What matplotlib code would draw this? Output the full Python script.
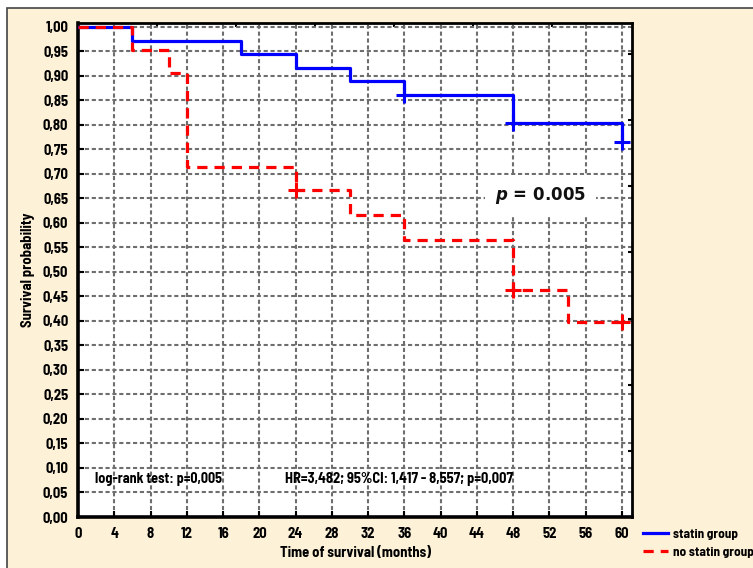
import matplotlib
matplotlib.use("Agg")

import matplotlib.pyplot as plt
import numpy as np
from matplotlib.patches import Rectangle
from matplotlib.ticker import FixedLocator, FuncFormatter

# Kaplan-Meier steps
statin_time = [0, 6, 18, 24, 30, 36, 48, 60]
statin_surv = [1.0, 0.972, 0.944, 0.917, 0.889, 0.861, 0.803, 0.765]
statin_cens_time = [36, 48, 60]
statin_cens_surv = [0.861, 0.803, 0.765]

nostatin_time = [0, 6, 10, 12, 24, 30, 36, 48, 54, 60]
nostatin_surv = [1.0, 0.952, 0.905, 0.714, 0.667, 0.617, 0.566, 0.463, 0.397, 0.397]
nostatin_cens_time = [24, 48, 60]
nostatin_cens_surv = [0.667, 0.463, 0.397]

x_ticks = list(range(0, 61, 4))
y_ticks = [round(v * 0.05, 2) for v in range(21)]

NARROW = ["Barlow Semi Condensed", "DejaVu Sans"]
BEIGE = "#fdf1d8"
BLUE = "#0000ff"
RED = "#ff0000"

fig = plt.figure(figsize=(7.53, 5.68), dpi=100, facecolor="white")

# beige panel behind the chart
panel = Rectangle((7 / 753, -0.05), 1.2, 1 - 8 / 568 + 0.05,
                  transform=fig.transFigure, facecolor=BEIGE,
                  edgecolor="#444444", linewidth=1.2, zorder=-10)
fig.patches.append(panel)

ax = fig.add_axes([78 / 753, 51 / 568, (632 - 78) / 753, (545 - 51) / 568])
ax.set_facecolor("white")

ax.set_xlim(0, 61.1)
ax.set_ylim(0, 1.008)

ax.xaxis.set_major_locator(FixedLocator(x_ticks))
ax.yaxis.set_major_locator(FixedLocator(y_ticks))
ax.yaxis.set_major_formatter(FuncFormatter(lambda v, p: f"{v:.2f}".replace(".", ",")))

# odd coarse ticks on top / right like the original software
ax.xaxis.set_minor_locator(FixedLocator([k * 61.0 / 7 for k in range(1, 7)]))
ax.yaxis.set_minor_locator(FixedLocator([k * 0.135 for k in range(1, 8)]))

ax.tick_params(which="major", direction="in", length=4, width=1.5,
               top=False, right=False, pad=7, labelsize=10.5)
ax.tick_params(which="minor", direction="in", length=3, width=1.5,
               bottom=False, left=False, top=True, right=True)

for lab in ax.get_xticklabels() + ax.get_yticklabels():
    lab.set_fontfamily(NARROW)
    lab.set_fontweight("bold")

ax.grid(True, which="major", color="#6e6e6e", linestyle=(0, (2.0, 1.3)),
        linewidth=1.5)
ax.set_axisbelow(True)

for side in ["left", "bottom"]:
    ax.spines[side].set_linewidth(2.6)
for side in ["top", "right"]:
    ax.spines[side].set_linewidth(2.0)

line_statin, = ax.step(statin_time, statin_surv, where="post", color=BLUE,
                       linewidth=2.3, label="statin group", zorder=3)
ax.plot(statin_cens_time, statin_cens_surv, linestyle="none", marker="+",
        markersize=11, markeredgewidth=2.2, color=BLUE, zorder=3)

line_nostatin, = ax.step(nostatin_time, nostatin_surv, where="post", color=RED,
                         linewidth=2.3, linestyle=(0, (3.2, 2.2)),
                         label="no statin group", zorder=4)
ax.plot(nostatin_cens_time, nostatin_cens_surv, linestyle="none", marker="+",
        markersize=11, markeredgewidth=2.2, color=RED, zorder=4)

ax.text(51.0, 0.655, r"$\boldsymbol{p}$ = 0.005", fontsize=12, fontweight="bold",
        color="#111111", ha="center", va="center", zorder=5,
        bbox=dict(boxstyle="square,pad=0.6", facecolor="white", edgecolor="none"))

ax.text(1.9, 0.078, "log-rank test: p=0,005", fontsize=10.2, fontweight="bold",
        family=NARROW, ha="left", va="center", zorder=5)
ax.text(22.8, 0.078, "HR=3,482; 95%CI: 1,417 - 8,557; p=0,007", fontsize=10.4,
        fontweight="bold", family=NARROW, ha="left", va="center", zorder=5)

ax.set_xlabel("Time of survival (months)", fontsize=10.5, fontweight="bold",
              family=NARROW, labelpad=4)
ax.set_ylabel("Survival probability", fontsize=10.5, fontweight="bold",
              family=NARROW, labelpad=5)

fig.legend(handles=[line_statin, line_nostatin], loc="upper left",
           bbox_to_anchor=(638 / 753, 45 / 568), frameon=False,
           handlelength=1.9, handletextpad=0.35, labelspacing=0.55,
           borderaxespad=0, prop=dict(family=NARROW, weight="bold", size=9.5))

fig.savefig("out.png", dpi=100, facecolor="white")
